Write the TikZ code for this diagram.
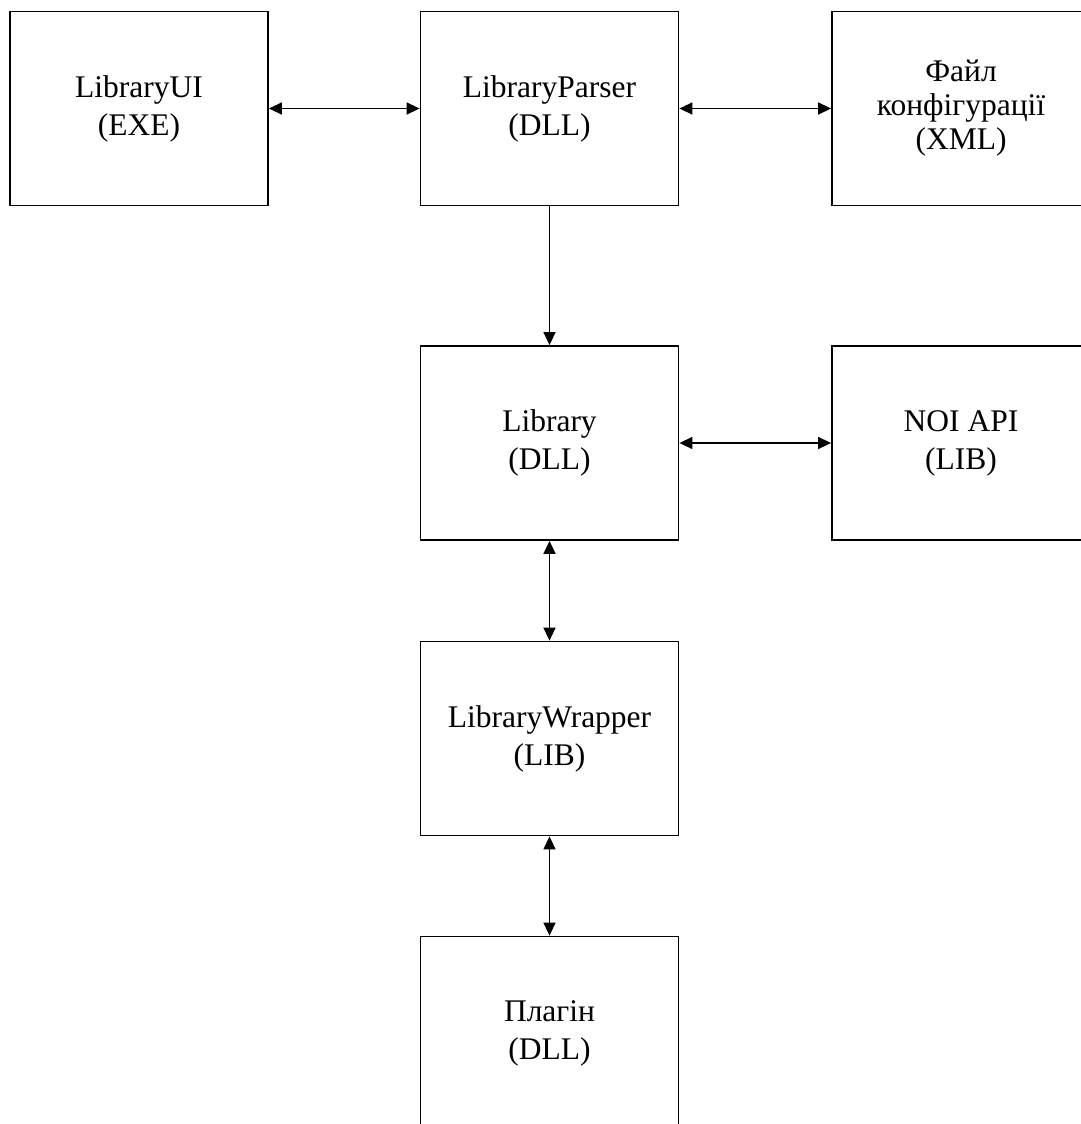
\documentclass[tikz,border=0pt]{standalone}
\usepackage{fontspec}
\setmainfont{Liberation Serif}
\usetikzlibrary{arrows.meta}
\begin{document}
\begin{tikzpicture}[x=1pt,y=-1pt,
  blk/.style={draw, line width=1.8pt, rectangle, minimum width=258pt, minimum height=194pt,
    align=center, inner sep=0pt, font=\fontsize{31.5}{38}\selectfont},
  tight/.style={font=\fontsize{31.5}{34}\selectfont},
  conn/.style={line width=1.5pt, {Triangle[length=13pt,width=12pt]}-{Triangle[length=13pt,width=12pt]}},
  oneway/.style={line width=1.5pt, -{Triangle[length=13pt,width=12pt]}}]
\useasboundingbox (0,0) rectangle (1081,1124);
\clip (0,0) rectangle (1081,1124);
\node[blk] (ui) at (139,108.5) {LibraryUI\\(EXE)};
\node[blk] (parser) at (549.5,108.5) {LibraryParser\\(DLL)};
\node[blk, tight] (file) at (961,108.5) {Файл\\конфігурації\\(XML)};
\node[blk] (lib) at (549.5,443) {Library\\(DLL)};
\node[blk] (noi) at (961,443) {NOI API\\(LIB)};
\node[blk] (wrap) at (549.5,738.5) {LibraryWrapper\\(LIB)};
\node[blk] (plug) at (549.5,1033.5) {Плагін\\(DLL)};
\draw[conn] (ui.east) -- (parser.west);
\draw[conn] (parser.east) -- (file.west);
\draw[oneway] (parser.south) -- (lib.north);
\draw[conn] (lib.east) -- (noi.west);
\draw[conn] (lib.south) -- (wrap.north);
\draw[conn] (wrap.south) -- (plug.north);
\end{tikzpicture}
\end{document}
